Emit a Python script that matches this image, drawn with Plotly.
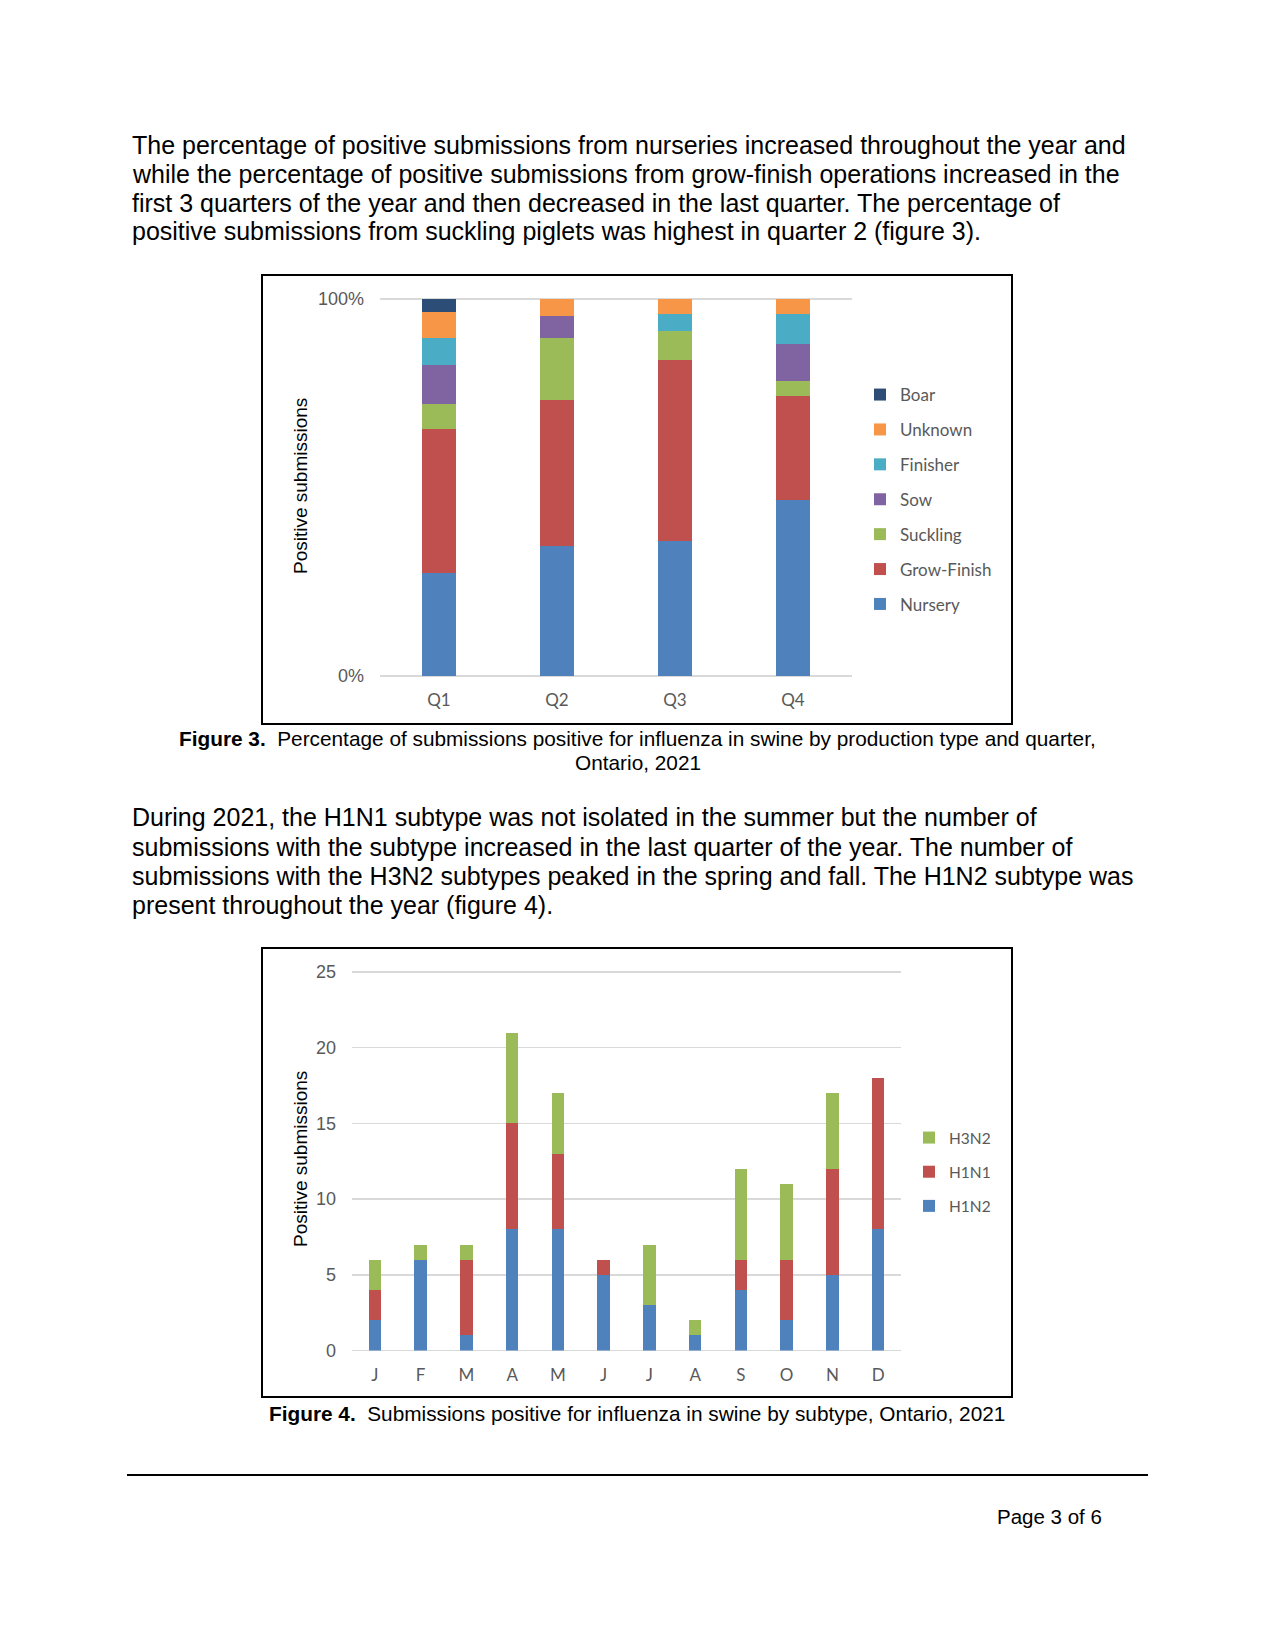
import plotly.graph_objects as go

W, H = 1275, 1650

# ---------------- Figure 3 data (percent of positive submissions) -------------
quarters = ["Q1", "Q2", "Q3", "Q4"]
nursery = [27.4, 34.4, 35.8, 46.7]
grow_finish = [38.0, 38.8, 47.9, 27.5]
suckling = [6.8, 16.4, 7.9, 4.0]
sow = [10.3, 6.0, 0.0, 9.8]
finisher = [7.2, 0.0, 4.3, 7.9]
unknown = [6.8, 4.4, 4.1, 4.1]
boar = [3.5, 0.0, 0.0, 0.0]
prod_names = ["Nursery", "Grow-Finish", "Suckling", "Sow", "Finisher", "Unknown", "Boar"]
prod_colors = ["#4F81BD", "#C0504D", "#9BBB59", "#8064A2", "#4BACC6", "#F79646", "#2C4D75"]
pct_ticks = [0, 100]
pct_ticktext = ["0%", "100%"]

# ---------------- Figure 4 data (number of positive submissions) -------------
months = ["J", "F", "M", "A", "M", "J", "J", "A", "S", "O", "N", "D"]
h1n2 = [2, 6, 1, 8, 8, 5, 3, 1, 4, 2, 5, 8]
h1n1 = [2, 0, 5, 7, 5, 1, 0, 0, 2, 4, 7, 10]
h3n2 = [2, 1, 1, 6, 4, 0, 4, 1, 6, 5, 5, 0]
sub_names = ["H1N2", "H1N1", "H3N2"]
sub_colors = ["#4F81BD", "#C0504D", "#9BBB59"]
count_ticks = [0, 5, 10, 15, 20, 25]

para1 = [
    "The percentage of positive submissions from nurseries increased throughout the year and",
    "while the percentage of positive submissions from grow-finish operations increased in the",
    "first 3 quarters of the year and then decreased in the last quarter. The percentage of",
    "positive submissions from suckling piglets was highest in quarter 2 (figure 3).",
]
para2 = [
    "During 2021, the H1N1 subtype was not isolated in the summer but the number of",
    "submissions with the subtype increased in the last quarter of the year. The number of",
    "submissions with the H3N2 subtypes peaked in the spring and fall. The H1N2 subtype was",
    "present throughout the year (figure 4).",
]


def px(x):
    return x / W


def py(y):
    return 1 - y / H


BODY = "Liberation Sans, Arial, sans-serif"
CHART = "Lato, Carlito, Calibri, sans-serif"
GREY = "#595959"
GRID = "#D9D9D9"

fig = go.Figure()

# Figure 3 bars (x / y, legend)
series1 = [nursery, grow_finish, suckling, sow, finisher, unknown, boar]
n1 = len(series1)
for i, (name, vals, col) in enumerate(zip(prod_names, series1, prod_colors)):
    fig.add_trace(go.Bar(
        x=quarters, y=vals, name=name, marker=dict(color=col, line=dict(width=0)),
        width=0.28, xaxis="x", yaxis="y", legend="legend", legendgroup="p%d" % i,
        legendrank=100 + (n1 - i), hoverinfo="skip",
    ))

# Figure 4 bars (x2 / y2, legend2)
series2 = [h1n2, h1n1, h3n2]
n2 = len(series2)
for i, (name, vals, col) in enumerate(zip(sub_names, series2, sub_colors)):
    fig.add_trace(go.Bar(
        x=list(range(len(months))), y=vals, name=name,
        marker=dict(color=col, line=dict(width=0)),
        width=0.277, xaxis="x2", yaxis="y2", legend="legend2", legendgroup="s%d" % i,
        legendrank=200 + (n2 - i), hoverinfo="skip",
    ))

axis_common = dict(showline=False, ticks="", fixedrange=True, automargin=False)

fig.update_layout(
    width=W, height=H,
    margin=dict(l=0, r=0, t=0, b=0, pad=0, autoexpand=False),
    paper_bgcolor="white", plot_bgcolor="white",
    barmode="stack",
    showlegend=True,
    xaxis=dict(domain=[px(380), px(852)], anchor="y", showgrid=False, zeroline=False,
               tickfont=dict(family=CHART, size=17, color=GREY), ticklabelstandoff=12,
               **axis_common),
    yaxis=dict(domain=[py(676), py(297.5)], anchor="x", range=[0, 100.4],
               tickvals=pct_ticks, ticktext=pct_ticktext, showgrid=True,
               gridcolor=GRID, gridwidth=1.5, zeroline=True, zerolinecolor=GRID,
               zerolinewidth=1.5,
               tickfont=dict(family=BODY, size=18, color=GREY), ticklabelstandoff=15,
               **axis_common),
    xaxis2=dict(domain=[px(352), px(901)], anchor="y2", showgrid=False, zeroline=False,
                range=[-0.5, 11.5], tickvals=list(range(len(months))), ticktext=months,
                tickfont=dict(family=CHART, size=17, color=GREY), ticklabelstandoff=12,
                **axis_common),
    yaxis2=dict(domain=[py(1350.5), py(970.5)], anchor="x2", range=[0, 25.1],
                tickvals=count_ticks, showgrid=True, gridcolor=GRID, gridwidth=1.5,
                zeroline=True, zerolinecolor=GRID, zerolinewidth=1.5,
                tickfont=dict(family=BODY, size=18, color=GREY), ticklabelstandoff=15,
                **axis_common),
    legend=dict(x=px(860), y=py(377), xanchor="left", yanchor="top",
                traceorder="grouped", tracegroupgap=9.8,
                font=dict(family=CHART, size=17, color=GREY), bgcolor="rgba(0,0,0,0)"),
    legend2=dict(x=px(909), y=py(1121), xanchor="left", yanchor="top",
                 traceorder="grouped", tracegroupgap=11,
                 font=dict(family=CHART, size=15.5, color=GREY), bgcolor="rgba(0,0,0,0)"),
)

ann = []


def note(text, x, y, size, xanchor="left", angle=0, color="black", family=BODY):
    ann.append(dict(text=text, x=px(x), y=py(y), xref="paper", yref="paper",
                    xanchor=xanchor, yanchor="middle", textangle=angle, showarrow=False,
                    font=dict(family=family, size=size, color=color)))


line_y1 = [145.5, 174, 202.7, 231.3]
for t, y in zip(para1, line_y1):
    note(t, 130, y, 25)
line_y2 = [817, 846.5, 875.5, 905]
for t, y in zip(para2, line_y2):
    note(t, 130, y, 25)

# captions
note("<b>Figure 3.</b>\u00a0\u00a0Percentage of submissions positive for influenza in swine by production type and quarter,",
     637.5, 738, 20.8, xanchor="center")
note("Ontario, 2021", 637.5, 762.5, 20.8, xanchor="center")
note("<b>Figure 4.</b>\u00a0\u00a0Submissions positive for influenza in swine by subtype, Ontario, 2021",
     637, 1413, 20.8, xanchor="center")

# axis titles
note("Positive submissions", 300, 486, 19, xanchor="center", angle=-90)
note("Positive submissions", 300, 1159, 19, xanchor="center", angle=-90)

# page number
note("Page 3 of 6", 1104, 1516, 20.5, xanchor="right")

fig.update_layout(annotations=ann)

shapes = [
    dict(type="rect", xref="paper", yref="paper", x0=px(262), x1=px(1012), y0=py(275), y1=py(724),
         line=dict(color="black", width=2), fillcolor="rgba(0,0,0,0)"),
    dict(type="rect", xref="paper", yref="paper", x0=px(262), x1=px(1012), y0=py(948), y1=py(1397),
         line=dict(color="black", width=2), fillcolor="rgba(0,0,0,0)"),
    dict(type="line", xref="paper", yref="paper", x0=px(127), x1=px(1148), y0=py(1475), y1=py(1475),
         line=dict(color="black", width=2)),
]
fig.update_layout(shapes=shapes)

fig.write_html("out.html", config={"displayModeBar": False, "staticPlot": True},
               post_script="document.body.style.margin='0';document.body.style.padding='0';"
                           "document.body.style.overflow='hidden';")
